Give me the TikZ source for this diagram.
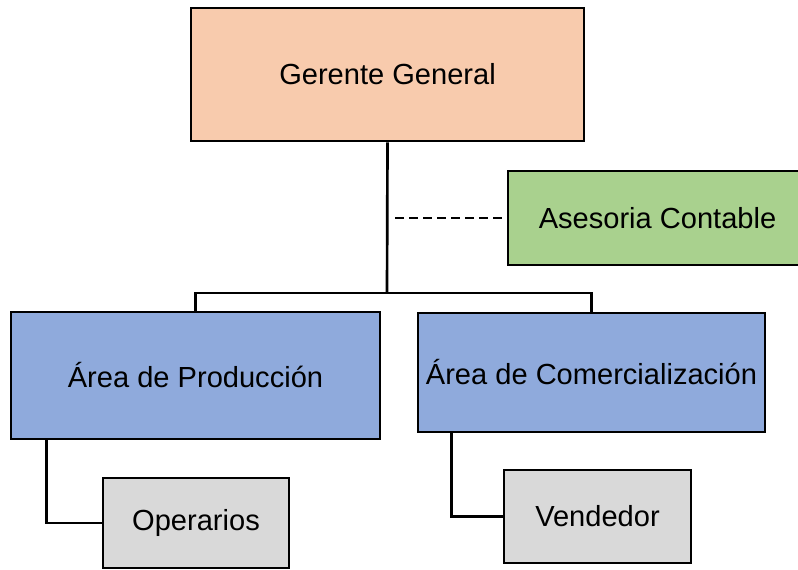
\documentclass[tikz,border=0pt]{standalone}
\usepackage{fontspec}
\setmainfont{Liberation Sans}
\definecolor{peach}{HTML}{F8CBAD}
\definecolor{leaf}{HTML}{A9D18E}
\definecolor{steel}{HTML}{8FAADC}
\definecolor{ash}{HTML}{D9D9D9}
\begin{document}
\begin{tikzpicture}[x=0.75pt,y=-0.75pt]
				\tikzstyle{Box} = [rectangle, draw, line width=2pt, inner sep=0pt, font=\fontsize{21.8}{26}\selectfont]
				\tikzstyle{Link} = [line width=2pt]
				\useasboundingbox (0,0) rectangle (798,570);
				\node (G) at (387.5,74.5) [Box, fill=peach, minimum width=393*0.75pt, minimum height=133*0.75pt] {Gerente General};
				\node (A) at (657.5,218) [Box, fill=leaf, minimum width=299*0.75pt, minimum height=94*0.75pt] {Asesoria Contable};
				\node (P) at (195.5,375.5) [Box, fill=steel, minimum width=369*0.75pt, minimum height=127*0.75pt] {Área de Producción};
				\node (C) at (591.5,372.5) [Box, fill=steel, minimum width=347*0.75pt, minimum height=119*0.75pt] {Área de Comercialización};
				\node (O) at (196,523) [Box, fill=ash, minimum width=186*0.75pt, minimum height=90*0.75pt] {Operarios};
				\node (V) at (597.5,516.5) [Box, fill=ash, minimum width=187*0.75pt, minimum height=93*0.75pt] {Vendedor};
				\coordinate (J) at (387,293);
				\coordinate (D) at (395,218);
				\draw[Link] (G.south) -- (J);
				\draw[Link] (P.north) |- (J) -| (C.north);
				\draw[line width=1.2pt, dash pattern=on 6.5pt off 4pt] (D) -- (A.west);
				\draw[Link] ([xshift=37*0.75pt]P.south west) |- (O.west);
				\draw[Link] ([xshift=35*0.75pt]C.south west) |- (V.west);
			\end{tikzpicture}
\end{document}
